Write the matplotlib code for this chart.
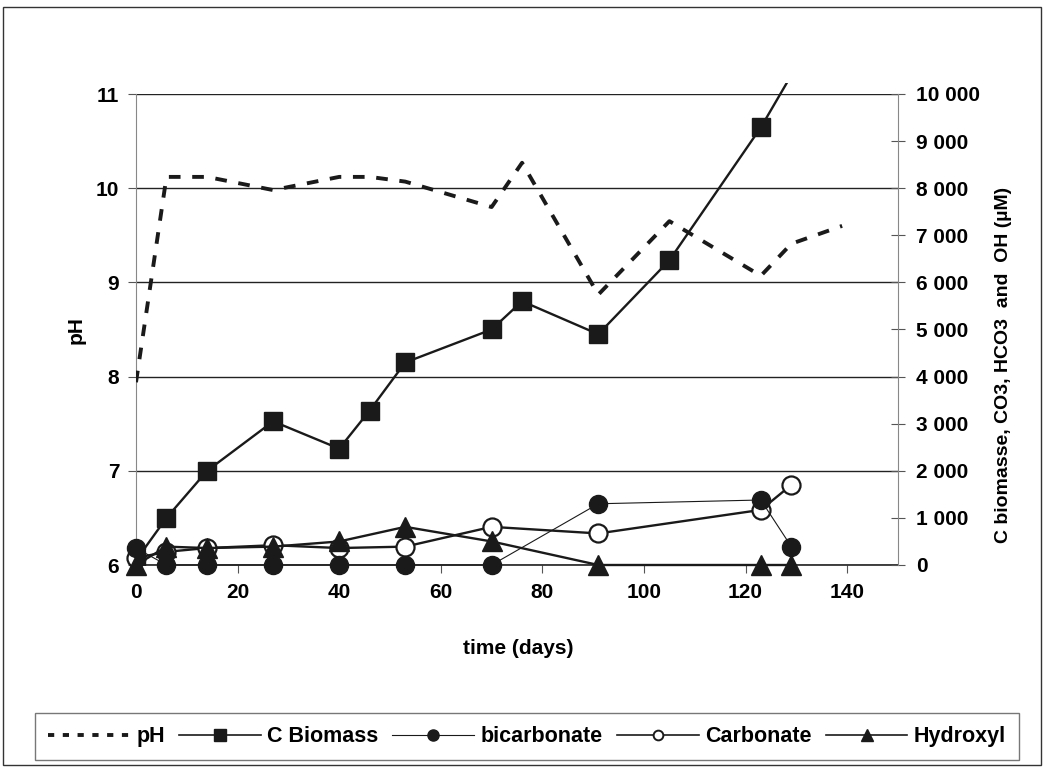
import matplotlib
matplotlib.use("Agg")
import matplotlib.pyplot as plt
from matplotlib.lines import Line2D
from matplotlib.patches import Rectangle
from matplotlib.ticker import FuncFormatter

plt.rcParams['font.family'] = ['Liberation Sans', 'DejaVu Sans']
plt.rcParams['font.weight'] = 'bold'

# ---- données ----
jours_ph = [0, 6, 14, 27, 40, 46, 53, 70, 76, 91, 105, 123, 129, 139]
ph = [7.94, 10.12, 10.12, 9.98, 10.12, 10.12, 10.07, 9.80, 10.27, 8.87, 9.65, 9.07, 9.41, 9.60]

jours_bio = [0, 6, 14, 27, 40, 46, 53, 70, 76, 91, 105, 123, 129]
c_biomass = [100, 1000, 2000, 3050, 2470, 3280, 4300, 5000, 5600, 4900, 6470, 9290, 10400]

jours_ions = [0, 6, 14, 27, 40, 53, 70, 91, 123, 129]
bicarbonate = [360, 0, 0, 0, 0, 0, 0, 1300, 1380, 390]
carbonate = [150, 280, 360, 420, 360, 390, 810, 670, 1170, 1700]
hydroxyl = [0, 390, 360, 390, 500, 810, 500, 0, 0, 0]

W, H = 1048, 771
fig = plt.figure(figsize=(W / 100, H / 100), dpi=100)
ax = fig.add_axes([136 / W, 1 - 565 / H, (898 - 136) / W, (565 - 94) / H])
ax2 = ax.twinx()

# axe pH
ax.set_xlim(0, 150)
ax.set_ylim(6, 11)
ax.set_xticks(range(0, 141, 20))
ax.set_yticks(range(6, 12))
ax.grid(axis='y', color='#222222', lw=1.0)
ax.set_axisbelow(True)
for s in ['top', 'right']:
    ax.spines[s].set_visible(False)
ax.spines['left'].set_color('#888888')
ax.spines['bottom'].set_color('#222222')
ax.spines['bottom'].set_linewidth(1.2)
ax.tick_params(axis='y', direction='out', length=6, color='#555555', pad=6, labelsize=15)
ax.tick_params(axis='x', direction='out', length=6, color='#555555', pad=7, labelsize=15)

ax.plot(jours_ph, ph, color='#1a1a1a', lw=2.8, ls=(0, (3.0, 3.0)), zorder=5)

# axe droit (µM)
ax2.set_ylim(0, 10000)
ax2.set_yticks(range(0, 10001, 1000))
ax2.yaxis.set_major_formatter(FuncFormatter(lambda v, p: f"{int(v):,}".replace(",", " ")))
for s in ['top', 'left', 'bottom']:
    ax2.spines[s].set_visible(False)
ax2.spines['right'].set_color('#888888')
ax2.tick_params(axis='y', direction='inout', length=10, color='#555555', pad=8, labelsize=15)

l_bio, = ax2.plot(jours_bio, c_biomass, color='#1a1a1a', lw=1.7, marker='s', ms=13.5,
                  markevery=list(range(len(jours_bio) - 1)),
                  mfc='#1a1a1a', mec='#1a1a1a', zorder=4)
clip = Rectangle((0, 0), 1, 1.024, transform=ax2.transAxes, visible=False)
ax2.add_patch(clip)
l_bio.set_clip_path(clip)

ax2.plot(jours_ions, carbonate, color='#1a1a1a', lw=1.7, marker='o', ms=13,
         mfc='white', mec='#1a1a1a', mew=1.6, zorder=3, clip_on=False)
ax2.plot(jours_ions, hydroxyl, color='#1a1a1a', lw=1.7, marker='^', ms=14,
         mfc='#1a1a1a', mec='#1a1a1a', zorder=4, clip_on=False)
ax2.plot(jours_ions, bicarbonate, color='#1a1a1a', lw=0.8, marker='o', ms=13,
         mfc='#1a1a1a', mec='#1a1a1a', zorder=3, clip_on=False)

# titres d'axes
fig.text(518 / W, 1 - 648 / H, 'time (days)', ha='center', va='center', fontsize=15, fontweight='bold')
fig.text(76 / W, 1 - 330 / H, 'pH', ha='center', va='center', rotation=90, fontsize=15, fontweight='bold')
fig.text(1003 / W, 1 - 365 / H, 'C biomasse, CO3, HCO3  and  OH (µM)', ha='center', va='center',
         rotation=90, fontsize=14, fontweight='bold')

# légende
handles = [
    Line2D([], [], color='#1a1a1a', lw=2.8, ls=(0, (1.6, 2.2))),
    Line2D([], [], color='#1a1a1a', lw=1.2, marker='s', ms=8),
    Line2D([], [], color='#1a1a1a', lw=0.8, marker='o', ms=8),
    Line2D([], [], color='#1a1a1a', lw=1.2, marker='o', ms=7, mfc='white', mew=1.4),
    Line2D([], [], color='#1a1a1a', lw=1.2, marker='^', ms=9),
]
labels = ['pH', 'C Biomass', 'bicarbonate', 'Carbonate', 'Hydroxyl']
leg = fig.legend(handles, labels, loc='lower left',
                 bbox_to_anchor=(35 / W, 1 - 760 / H, (1019 - 35) / W, 47 / H),
                 mode='expand', ncol=5, frameon=True, fancybox=False, handlelength=3.8,
                 handletextpad=0.3, columnspacing=0.4, borderaxespad=0, borderpad=0.6,
                 prop={'weight': 'bold', 'size': 15.5})
leg.get_frame().set_edgecolor('#555555')
leg.get_frame().set_linewidth(1.0)

# cadre extérieur
fig.patches.append(Rectangle((3 / W, 1 - 765 / H), (1041 - 3) / W, (765 - 7) / H, fill=False,
                             edgecolor='#333333', lw=1.0, transform=fig.transFigure))

fig.savefig('out.png', dpi=100)
